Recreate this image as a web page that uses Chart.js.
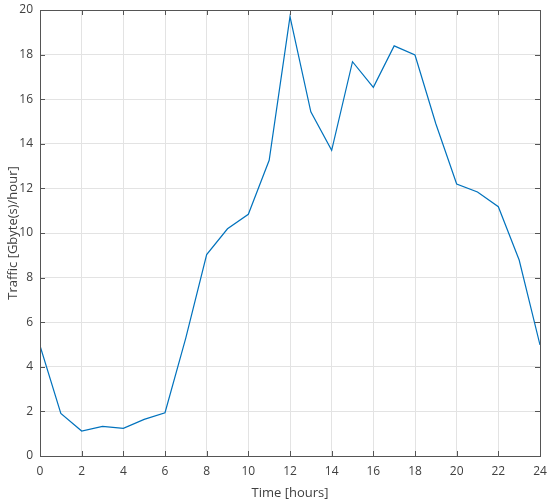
<!DOCTYPE html>
<html>
<head>
<meta charset="utf-8">
<script src="https://cdn.jsdelivr.net/npm/chart.js@4"></script>
<style>
  html, body { margin: 0; padding: 0; background: #fff; }
  #wrap { width: 550px; height: 504px; }
</style>
</head>
<body>
<div id="wrap"><canvas id="trafficChart" width="550" height="504"></canvas></div>
<script>
const hours = [0, 1, 2, 3, 4, 5, 6, 7, 8, 9, 10, 11, 12, 13, 14, 15, 16, 17, 18, 19, 20, 21, 22, 23, 24];
const traffic = [4.95, 1.91, 1.12, 1.33, 1.24, 1.64, 1.94, 5.3, 9.03, 10.19, 10.84, 13.26, 19.7, 15.43, 13.71,
                 17.68, 16.53, 18.39, 17.98, 14.9, 12.2, 11.84, 11.18, 8.79, 4.98];
const xTitle = 'Time [hours]';
const yTitle = 'Traffic [Gbyte(s)/hour]';

const fontFamily = '"Open Sans", "Noto Sans", sans-serif';
const textColor = '#404040';
const axisColor = '#555555';

// MATLAB style box: frame on all four sides, ticks pointing inward
const boxPlugin = {
    id: 'boxPlugin',
    afterDraw(chart) {
        const ctx = chart.ctx;
        const area = chart.chartArea;
        const xs = chart.scales.x;
        const ys = chart.scales.y;
        const len = 5;
        ctx.save();
        ctx.strokeStyle = axisColor;
        ctx.lineWidth = 1;
        ctx.strokeRect(area.left + 0.5, area.top + 0.5, area.right - area.left, area.bottom - area.top);
        ctx.beginPath();
        xs.ticks.forEach(t => {
            const px = Math.round(xs.getPixelForValue(t.value)) + 0.5;
            ctx.moveTo(px, area.bottom);
            ctx.lineTo(px, area.bottom - len);
            ctx.moveTo(px, area.top);
            ctx.lineTo(px, area.top + len);
        });
        ys.ticks.forEach(t => {
            const py = Math.round(ys.getPixelForValue(t.value)) + 0.5;
            ctx.moveTo(area.left, py);
            ctx.lineTo(area.left + len, py);
            ctx.moveTo(area.right, py);
            ctx.lineTo(area.right - len, py);
        });
        ctx.stroke();
        ctx.restore();
    }
};

// fixed axis sizes so the plot area lands where the reference has it
function fixX(scale) {
    scale.height = 48;
    scale.paddingLeft = 0;
    scale.paddingRight = 0;
}
function fixY(scale) {
    scale.width = 40;
    scale.paddingTop = 0;
    scale.paddingBottom = 0;
}

const ctx = document.getElementById('trafficChart').getContext('2d');

new Chart(ctx, {
    type: 'line',
    data: {
        datasets: [{
            data: hours.map((h, i) => ({ x: h, y: traffic[i] })),
            borderColor: '#0072BD',
            borderWidth: 1.2,
            pointRadius: 0,
            fill: false,
            tension: 0
        }]
    },
    options: {
        responsive: false,
        animation: false,
        layout: { padding: { top: 10, right: 10, left: 0, bottom: 0 } },
        plugins: {
            legend: { display: false },
            tooltip: { enabled: false }
        },
        scales: {
            x: {
                type: 'linear',
                min: 0,
                max: 24,
                afterFit: fixX,
                ticks: {
                    stepSize: 2,
                    padding: 8,
                    color: textColor,
                    font: { family: fontFamily, size: 12 },
                    maxRotation: 0
                },
                grid: { color: '#e3e3e3', drawTicks: false },
                border: { display: false },
                title: {
                    display: true,
                    text: xTitle,
                    color: textColor,
                    font: { family: fontFamily, size: 13 },
                    padding: { top: 0, bottom: 3 }
                }
            },
            y: {
                min: 0,
                max: 20,
                afterFit: fixY,
                ticks: {
                    stepSize: 2,
                    padding: 7,
                    color: textColor,
                    font: { family: fontFamily, size: 12 }
                },
                grid: { color: '#e3e3e3', drawTicks: false },
                border: { display: false },
                title: {
                    display: true,
                    text: yTitle,
                    color: textColor,
                    font: { family: fontFamily, size: 13 },
                    padding: { top: 5, bottom: 0 }
                }
            }
        }
    },
    plugins: [boxPlugin]
});
</script>
</body>
</html>
